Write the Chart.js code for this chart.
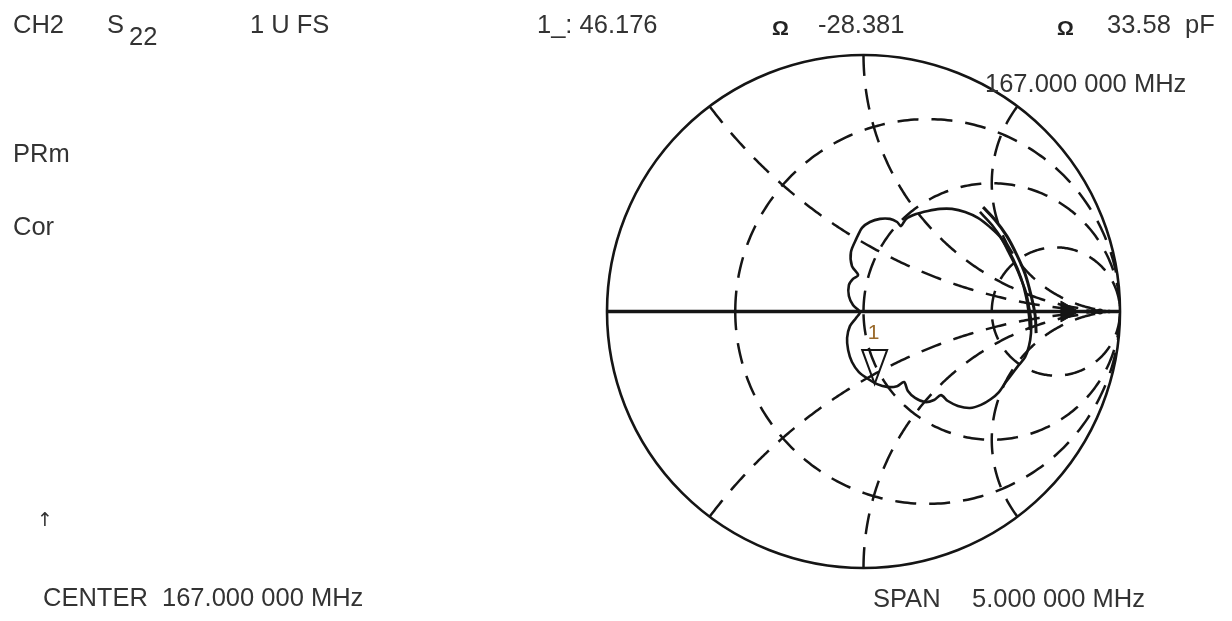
<!DOCTYPE html>
<html><head><meta charset="utf-8">
<script src="https://cdn.jsdelivr.net/npm/chart.js@4.4.0/dist/chart.umd.min.js"></script>
<style>
html,body{margin:0;padding:0;background:#fff;}
#wrap{position:relative;width:1232px;height:621px;overflow:hidden;font-family:"Liberation Sans",Arial,sans-serif;color:#333;}
#c{position:absolute;left:0;top:0;}
.t{position:absolute;font-size:25.5px;line-height:1;white-space:pre;}
.o{position:absolute;font-size:21px;font-weight:bold;line-height:1;color:#222;}
</style></head><body>
<div id="wrap">
<canvas id="c" width="1232" height="621"></canvas>
<span class="t" style="left:13px;top:12px">CH2</span>
<span class="t" style="left:107px;top:12px">S</span>
<span class="t" style="left:129px;top:24px">22</span>
<span class="t" style="left:250px;top:12px">1 U FS</span>
<span class="t" style="left:537px;top:12px">1_: 46.176</span>
<span class="o" style="left:772px;top:17px">Ω</span>
<span class="t" style="left:818px;top:12px">-28.381</span>
<span class="o" style="left:1057px;top:17px">Ω</span>
<span class="t" style="left:1107px;top:12px">33.58  pF</span>
<span class="t" style="left:985px;top:71px">167.000 000 MHz</span>
<span class="t" style="left:13px;top:141px">PRm</span>
<span class="t" style="left:13px;top:214px">Cor</span>
<span class="t" style="left:37px;top:510px;font-size:19px;font-family:'DejaVu Sans'">↑</span>
<span class="t" style="left:43px;top:585px">CENTER  167.000 000 MHz</span>
<span class="t" style="left:873px;top:586px">SPAN</span>
<span class="t" style="left:972px;top:586px">5.000 000 MHz</span>
</div>
<script>
// Smith chart graticule values (normalized)
const resistanceCircles = [1/3, 1, 3];
const reactanceArcs = [0.5, 1, 2];

// S22 trace, reflection coefficient (real / imaginary)
const loopRe = [-0.025,-0.006,0.025,0.064,0.103,0.131,0.146,0.166,0.205,0.251,0.298,0.345,0.396,0.446,0.493,0.536,0.563,0.591,0.614,0.634,0.645,0.653,0.653,0.645,0.630,0.602,0.579,0.552,0.528,0.497,0.458,0.415,0.368,0.329,0.302,0.275,0.240,0.201,0.173,0.158,0.131,0.092,0.053,0.018,-0.018,-0.045,-0.060,-0.064,-0.053,-0.029,-0.014,-0.041,-0.057,-0.057,-0.041,-0.021,-0.045,-0.049,-0.025];
const loopIm = [0.290,0.326,0.349,0.361,0.361,0.349,0.333,0.361,0.380,0.392,0.400,0.400,0.388,0.365,0.329,0.287,0.236,0.181,0.127,0.072,0.018,-0.033,-0.084,-0.135,-0.178,-0.213,-0.244,-0.279,-0.314,-0.341,-0.364,-0.376,-0.368,-0.349,-0.326,-0.345,-0.353,-0.337,-0.310,-0.275,-0.291,-0.294,-0.283,-0.263,-0.236,-0.197,-0.150,-0.103,-0.057,-0.025,-0.002,0.025,0.060,0.103,0.127,0.142,0.177,0.232,0.290];

const edgeOuterRe = [0.466,0.513,0.559,0.598,0.630,0.653,0.669,0.673];
const edgeOuterIm = [0.407,0.357,0.294,0.220,0.146,0.064,-0.014,-0.084];
const edgeInnerRe = [0.454,0.501,0.544,0.583,0.614,0.634,0.645,0.649];
const edgeInnerIm = [0.388,0.337,0.275,0.205,0.131,0.057,-0.014,-0.072];

// marker 1 (46.176 - j28.381 ohm)
const markerRe = [0.0435];
const markerIm = [-0.2822];
const markerLabels = ['1'];
// symbols on the real axis
const axisSymRe = [0.793];
const axisSymIm = [0];
const axisDotRe = [0.922];
const axisDotIm = [0];

const pts = (re, im) => re.map((v, i) => ({x: v, y: im[i]}));

const smithGrid = {
  id: 'smithGrid',
  beforeDatasetsDraw(chart) {
    const ctx = chart.ctx, xs = chart.scales.x, ys = chart.scales.y;
    const P = (a, b) => [xs.getPixelForValue(a), ys.getPixelForValue(b)];
    const [cx, cy] = P(0, 0);
    const R = xs.getPixelForValue(1) - cx;
    ctx.save();
    ctx.strokeStyle = '#151515';
    ctx.beginPath(); ctx.arc(cx, cy, R, 0, 2 * Math.PI); ctx.clip();
    ctx.setLineDash([21, 13]);
    ctx.lineWidth = 2.5;
    resistanceCircles.forEach(r => {
      const c = r / (1 + r), rad = 1 / (1 + r);
      ctx.beginPath();
      for (let i = 0; i <= 360; i++) {
        const a = Math.PI - i * Math.PI / 180;
        const [px, py] = P(c + rad * Math.cos(a), rad * Math.sin(a));
        i ? ctx.lineTo(px, py) : ctx.moveTo(px, py);
      }
      ctx.stroke();
    });
    reactanceArcs.forEach(x => {
      [1, -1].forEach(s => {
        const rad = 1 / x;
        const th = Math.PI - 2 * Math.atan(x);
        let phi0 = Math.atan2(Math.sin(th) - rad, Math.cos(th) - 1);
        if (phi0 < 0) phi0 += 2 * Math.PI;
        const phi1 = 1.5 * Math.PI;
        ctx.beginPath();
        const N = 240;
        for (let i = 0; i <= N; i++) {
          const a = phi0 + (phi1 - phi0) * i / N;
          const gx = 1 + rad * Math.cos(a), gy = rad + rad * Math.sin(a);
          const [px, py] = P(gx, s * gy);
          i ? ctx.lineTo(px, py) : ctx.moveTo(px, py);
        }
        ctx.stroke();
      });
    });
    ctx.restore();
    ctx.save();
    ctx.strokeStyle = '#151515';
    ctx.lineWidth = 2.6;
    ctx.beginPath(); ctx.arc(cx, cy, R, 0, 2 * Math.PI); ctx.stroke();
    ctx.lineWidth = 3.6;
    const [lx] = P(-1, 0), [rx] = P(1, 0);
    ctx.beginPath(); ctx.moveTo(lx, cy); ctx.lineTo(rx, cy); ctx.stroke();
    ctx.restore();
  },
  afterDatasetsDraw(chart) {
    const ctx = chart.ctx, xs = chart.scales.x, ys = chart.scales.y;
    ctx.save();
    markerRe.forEach((v, i) => {
      const px = xs.getPixelForValue(v), py = ys.getPixelForValue(markerIm[i]);
      ctx.strokeStyle = '#151515'; ctx.lineWidth = 2;
      ctx.beginPath();
      ctx.moveTo(px, py); ctx.lineTo(px - 12.5, py - 34); ctx.lineTo(px + 12.5, py - 34); ctx.closePath();
      ctx.stroke();
      ctx.fillStyle = '#9a6a2c';
      ctx.font = '21px "Liberation Sans", Arial, sans-serif';
      ctx.textAlign = 'center'; ctx.textBaseline = 'alphabetic';
      ctx.fillText(markerLabels[i], px - 1, py - 45);
    });
    ctx.restore();
  }
};

new Chart(document.getElementById('c'), {
  type: 'scatter',
  data: {
    datasets: [
      {data: pts(loopRe, loopIm), showLine: true, borderColor: '#151515', borderWidth: 2.6, pointRadius: 0, tension: 0.3},
      {data: pts(edgeOuterRe, edgeOuterIm), showLine: true, borderColor: '#151515', borderWidth: 3, pointRadius: 0, tension: 0.3},
      {data: pts(edgeInnerRe, edgeInnerIm), showLine: true, borderColor: '#151515', borderWidth: 2.6, pointRadius: 0, tension: 0.3},
      {data: pts(axisSymRe, axisSymIm), showLine: false, pointStyle: 'triangle', rotation: 90, pointRadius: 12, backgroundColor: '#151515', borderColor: '#151515', borderWidth: 1},
      {data: pts(axisDotRe, axisDotIm), showLine: false, pointStyle: 'circle', pointRadius: 3, backgroundColor: '#151515', borderColor: '#151515', borderWidth: 0}
    ]
  },
  options: {
    responsive: false,
    animation: false,
    events: [],
    layout: {padding: 0, autoPadding: false},
    plugins: {legend: {display: false}, tooltip: {enabled: false}},
    scales: {
      x: {type: 'linear', display: false, min: -3.3665, max: 1.4366},
      y: {type: 'linear', display: false, min: -1.2066, max: 1.2144}
    }
  },
  plugins: [smithGrid]
});
</script>
</body></html>
